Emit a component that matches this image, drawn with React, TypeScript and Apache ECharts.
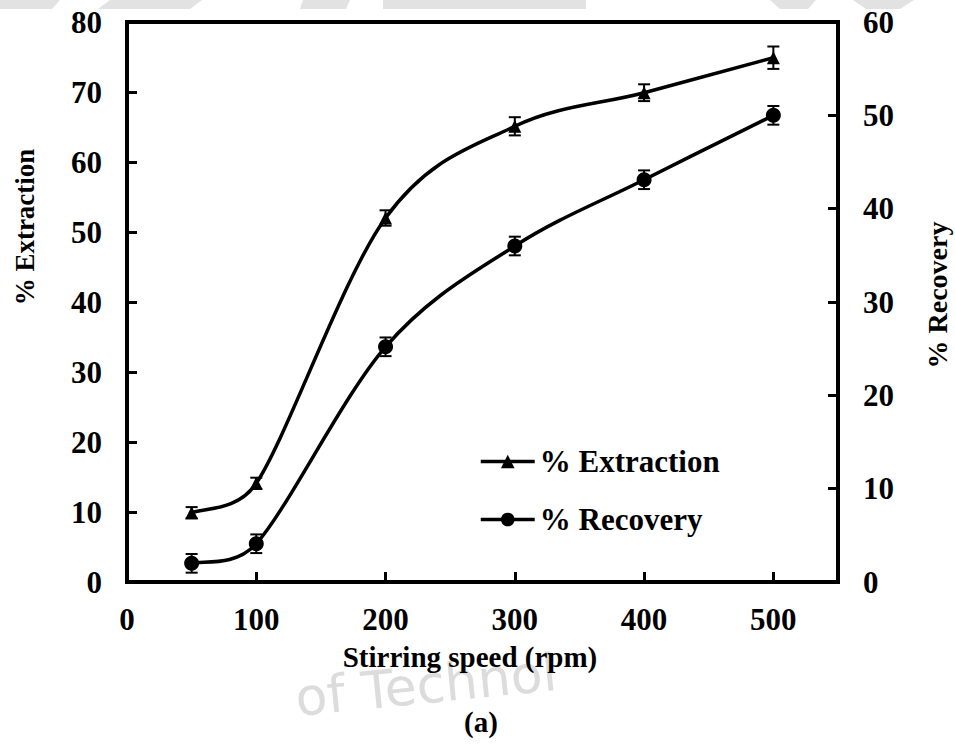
import React, { useEffect, useRef } from "react";
import * as echarts from "echarts";

const speeds = [50, 100, 200, 300, 400, 500];
const extraction = [9.9, 14.1, 52.0, 65.1, 69.9, 74.9];
const extractionErr = [0.8, 0.8, 1.1, 1.3, 1.2, 1.6];
const recovery = [2.0, 4.1, 25.2, 36.0, 43.1, 50.0];
const recoveryErr = [1.0, 1.0, 1.0, 1.0, 1.0, 1.0];

const FONT = "'Liberation Serif', 'Times New Roman', serif";

function errorSeries(name: string, values: number[], errs: number[], yAxisIndex: number) {
  return {
    name: name + " err",
    type: "custom",
    yAxisIndex,
    silent: true,
    z: 3,
    data: speeds.map((x, i) => [x, values[i], errs[i]]),
    renderItem: (params: any, api: any) => {
      const x = api.value(0);
      const y = api.value(1);
      const e = api.value(2);
      const lo = api.coord([x, y - e]);
      const hi = api.coord([x, y + e]);
      const hw = 6;
      const style = { stroke: "#000", lineWidth: 2 };
      return {
        type: "group",
        children: [
          { type: "line", shape: { x1: lo[0], y1: lo[1], x2: hi[0], y2: hi[1] }, style },
          { type: "line", shape: { x1: lo[0] - hw, y1: lo[1], x2: lo[0] + hw, y2: lo[1] }, style },
          { type: "line", shape: { x1: hi[0] - hw, y1: hi[1], x2: hi[0] + hw, y2: hi[1] }, style },
        ],
      };
    },
  };
}

// Smoothed line (Catmull-Rom style tangents, shortened next to a much shorter segment)
function curveSeries(name: string, values: number[], yAxisIndex: number) {
  return {
    name: name + " curve",
    type: "custom",
    yAxisIndex,
    silent: true,
    z: 2,
    data: speeds.slice(0, -1).map((x, i) => [x, values[i]]),
    renderItem: (params: any, api: any) => {
      const i = params.dataIndex;
      const n = speeds.length;
      const p = (k: number) => {
        const kk = Math.max(0, Math.min(n - 1, k));
        return api.coord([speeds[kk], values[kk]]);
      };
      const dist = (a: number[], b: number[]) => Math.hypot(a[0] - b[0], a[1] - b[1]);
      const p0 = p(i - 1);
      const p1 = p(i);
      const p2 = p(i + 1);
      const p3 = p(i + 2);
      const t = 1 / 6;
      const seg = dist(p1, p2);
      const prevSeg = dist(p0, p1);
      const nextSeg = dist(p2, p3);
      const f1 = prevSeg > 0 ? Math.min(1, (3 * seg) / (prevSeg + seg)) : 1;
      const f2 = nextSeg > 0 ? Math.min(1, (3 * seg) / (seg + nextSeg)) : 1;
      return {
        type: "bezierCurve",
        shape: {
          x1: p1[0],
          y1: p1[1],
          x2: p2[0],
          y2: p2[1],
          cpx1: p1[0] + (p2[0] - p0[0]) * t * f1,
          cpy1: p1[1] + (p2[1] - p0[1]) * t * f1,
          cpx2: p2[0] - (p3[0] - p1[0]) * t * f2,
          cpy2: p2[1] - (p3[1] - p1[1]) * t * f2,
        },
        style: { stroke: "#000", lineWidth: 3.5, fill: "none" },
      };
    },
  };
}

export default function App() {
  const ref = useRef<HTMLDivElement>(null);
  useEffect(() => {
    if (!ref.current) return;
    const chart = echarts.init(ref.current, null, { renderer: "svg" });
    const labelStyle = { color: "#000", fontFamily: FONT, fontWeight: "bold", fontSize: 31 };
    const wm = { fill: "#e2e2e2" };
    chart.setOption({
      animation: false,
      backgroundColor: "#fff",
      grid: {
        left: 127,
        right: 117,
        top: 22,
        bottom: 169,
        show: true,
        borderColor: "#000",
        borderWidth: 4,
        containLabel: false,
      },
      legend: {
        orient: "vertical",
        left: 474,
        top: 441,
        itemWidth: 54,
        itemHeight: 17,
        itemGap: 27,
        data: ["% Extraction", "% Recovery"],
        lineStyle: { width: 3.5, color: "#000", opacity: 1 },
        textStyle: { color: "#000", fontFamily: FONT, fontWeight: "bold", fontSize: 31 },
      },
      xAxis: {
        type: "value",
        min: 0,
        max: 550,
        interval: 100,
        axisLine: { show: true, lineStyle: { color: "#000", width: 4 } },
        axisTick: { show: true, inside: true, length: 10, lineStyle: { color: "#000", width: 3 } },
        splitLine: { show: false },
        axisLabel: {
          ...labelStyle,
          margin: 22,
          showMaxLabel: false,
          formatter: (v: number) => (v % 100 === 0 ? String(v) : ""),
        },
      },
      yAxis: [
        {
          type: "value",
          min: 0,
          max: 80,
          interval: 10,
          position: "left",
          axisLine: { show: true, lineStyle: { color: "#000", width: 4 } },
          axisTick: { show: true, inside: true, length: 10, lineStyle: { color: "#000", width: 3 } },
          splitLine: { show: false },
          axisLabel: { ...labelStyle, margin: 25 },
        },
        {
          type: "value",
          min: 0,
          max: 60,
          interval: 10,
          position: "right",
          axisLine: { show: true, lineStyle: { color: "#000", width: 4 } },
          axisTick: { show: true, inside: true, length: 10, lineStyle: { color: "#000", width: 3 } },
          splitLine: { show: false },
          axisLabel: { ...labelStyle, margin: 25 },
        },
      ],
      graphic: [
        // faint watermark fragments
        { type: "polygon", z: -10, silent: true, shape: { points: [[0, 0], [60, 0], [52, 9], [0, 9]] }, style: wm },
        { type: "polygon", z: -10, silent: true, shape: { points: [[110, 0], [202, 0], [190, 9], [98, 9]] }, style: wm },
        { type: "polygon", z: -10, silent: true, shape: { points: [[303, 0], [350, 0], [346, 9], [300, 9]] }, style: wm },
        { type: "rect", z: -10, silent: true, shape: { x: 383, y: 0, width: 203, height: 9 }, style: wm },
        { type: "polygon", z: -10, silent: true, shape: { points: [[770, 0], [816, 0], [808, 9], [780, 9]] }, style: wm },
        { type: "polygon", z: -10, silent: true, shape: { points: [[853, 0], [914, 0], [900, 9], [866, 9]] }, style: wm },
        {
          type: "text",
          x: 298,
          y: 724,
          rotation: 0.1,
          z: -10,
          silent: true,
          style: {
            text: "of Technol",
            fill: "#dcdcdc",
            font: "52px 'DejaVu Sans', sans-serif",
            align: "left",
            verticalAlign: "bottom",
          },
        },
        {
          type: "text",
          x: 470,
          y: 657,
          style: {
            text: "Stirring speed (rpm)",
            fill: "#000",
            font: `bold 29px ${FONT}`,
            align: "center",
            verticalAlign: "middle",
          },
        },
        {
          type: "text",
          x: 25,
          y: 227,
          rotation: Math.PI / 2,
          style: {
            text: "% Extraction",
            fill: "#000",
            font: `bold 27px ${FONT}`,
            align: "center",
            verticalAlign: "middle",
          },
        },
        {
          type: "text",
          x: 937,
          y: 295,
          rotation: Math.PI / 2,
          style: {
            text: "% Recovery",
            fill: "#000",
            font: `bold 28px ${FONT}`,
            align: "center",
            verticalAlign: "middle",
          },
        },
        {
          type: "text",
          x: 481,
          y: 722,
          style: {
            text: "(a)",
            fill: "#000",
            font: `bold 29px ${FONT}`,
            align: "center",
            verticalAlign: "middle",
          },
        },
      ],
      series: [
        {
          name: "% Extraction",
          type: "line",
          yAxisIndex: 0,
          symbol: "triangle",
          symbolSize: 13,
          showAllSymbol: true,
          itemStyle: { color: "#000" },
          lineStyle: { color: "#000", width: 0, opacity: 0 },
          data: speeds.map((x, i) => [x, extraction[i]]),
          z: 4,
        },
        {
          name: "% Recovery",
          type: "line",
          yAxisIndex: 1,
          symbol: "circle",
          symbolSize: 15,
          showAllSymbol: true,
          itemStyle: { color: "#000" },
          lineStyle: { color: "#000", width: 0, opacity: 0 },
          data: speeds.map((x, i) => [x, recovery[i]]),
          z: 4,
        },
        curveSeries("% Extraction", extraction, 0),
        curveSeries("% Recovery", recovery, 1),
        errorSeries("% Extraction", extraction, extractionErr, 0),
        errorSeries("% Recovery", recovery, recoveryErr, 1),
      ],
    });
    return () => chart.dispose();
  }, []);
  return (
    <div
      ref={ref}
      style={{ position: "fixed", left: 0, top: 0, width: 955, height: 751, background: "#fff" }}
    />
  );
}
